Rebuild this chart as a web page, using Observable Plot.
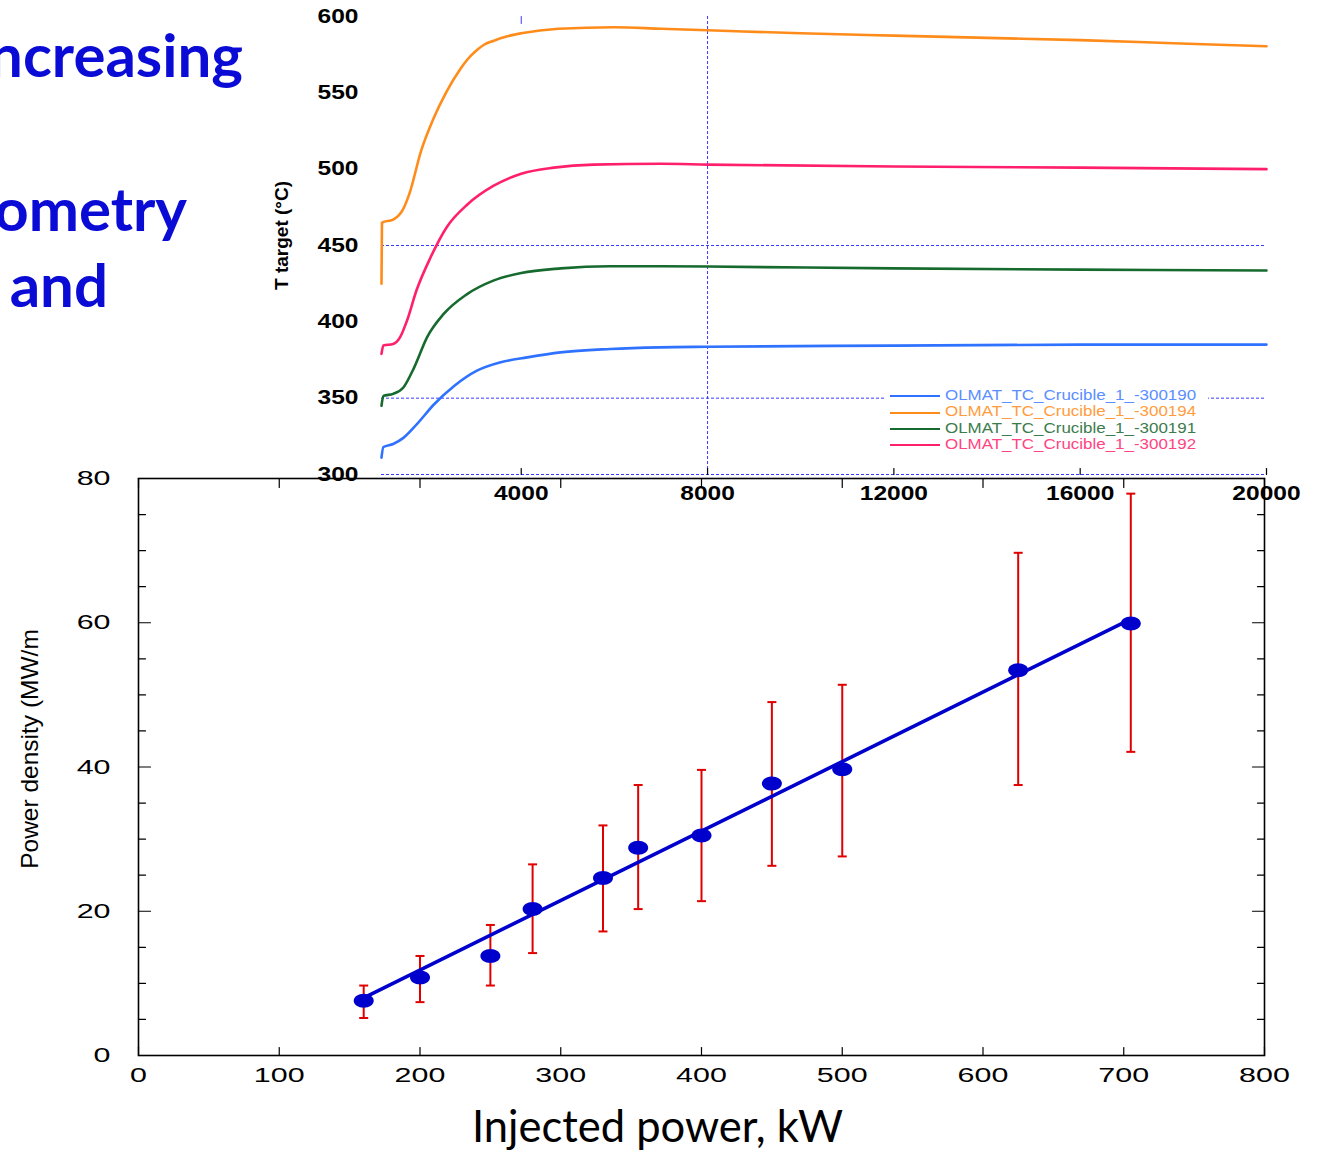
<!DOCTYPE html>
<html>
<head>
<meta charset="utf-8">
<script src="https://cdn.jsdelivr.net/npm/d3@7"></script>
<script src="https://cdn.jsdelivr.net/npm/@observablehq/plot@0.6"></script>
<style>
  body { margin: 0; background: #fff; }
  #wrap { position: relative; width: 1326px; height: 1152px; overflow: hidden; background: #fff; }
  .slide { position: absolute; font-family: Lato, "Open Sans", sans-serif; font-weight: 700; color: #0b0bd6;
           font-size: 60px; line-height: 60px; white-space: nowrap; }
  #bottomChart { position: absolute; left: 0; top: 460px; }
  #topChart { position: absolute; left: 0; top: 0; }
  #legend { position: absolute; left: 884px; top: 387px; width: 324px; background: #fff; padding: 0 0 2px 6px;
            box-sizing: border-box; font-family: "Liberation Sans", Arial, sans-serif; font-size: 14px; }
  #legend .row { height: 16.33px; line-height: 16.33px; white-space: nowrap; }
  #legend .sw { display: inline-block; width: 50px; height: 0; vertical-align: middle; margin-right: 5px; }
  #legend .lab { display: inline-block; transform: scaleX(1.21); transform-origin: left center; }
</style>
</head>
<body>
<div id="wrap">
  <div class="slide" style="right:1083px; top:24px;">ncreasing</div>
  <div class="slide" style="right:1139px; top:178px;">ometry</div>
  <div class="slide" style="right:1218px; top:254px;">and</div>
  <div id="bottomChart"></div>
  <div id="topChart"></div>
  <div id="legend"></div>
</div>
<script>
// ---------- bottom chart data ----------
const power    = [160, 200, 250, 280, 330, 355, 400, 450, 500, 625, 705];
const density  = [7.6, 10.8, 13.8, 20.3, 24.6, 28.8, 30.5, 37.7, 39.7, 53.4, 59.9];
const errLow   = [5.2, 7.4, 9.7, 14.2, 17.2, 20.3, 21.4, 26.3, 27.6, 37.5, 42.1];
const errHigh  = [9.7, 13.8, 18.1, 26.5, 31.9, 37.5, 39.6, 49.0, 51.4, 69.7, 77.9];
const fitPower   = [160, 705];
const fitDensity = [8.0, 60.5];
const xTicks      = [0, 100, 200, 300, 400, 500, 600, 700, 800];
const yMajorTicks = [0, 20, 40, 60, 80];
const yMinorTicks = [5, 10, 15, 25, 30, 35, 45, 50, 55, 65, 70, 75];
const xTitle = "Injected power, kW";
const yTitle = "Power density (MW/m";

// ---------- top chart data ----------
const seriesIds    = ["OLMAT_TC_Crucible_1_-300190", "OLMAT_TC_Crucible_1_-300194", "OLMAT_TC_Crucible_1_-300191", "OLMAT_TC_Crucible_1_-300192"];
const seriesColors = ["#2f72ff", "#ff8c1a", "#176a2e", "#ff1f6c"];
const legendColors = ["#5b8eff", "#ff9c3e", "#3b7c4c", "#ff4482"];

const time190 = [1000, 1040, 1250, 1470, 1760, 2130, 2560, 3050, 3560, 4130, 4840, 5910, 6990, 8000, 12000, 16000, 20000];
const temp190 = [311, 318, 320, 324, 333, 346, 358, 368, 373.5, 376.7, 380, 382.2, 383.3, 383.7, 384.4, 385.1, 385.1];
const time194 = [1000, 1010, 1250, 1450, 1600, 1850, 2100, 2400, 2700, 2850, 3050, 3200, 3400, 3700, 4000, 4800, 6000, 7000, 8000, 10000, 12000, 14000, 16000, 18000, 20000];
const temp194 = [425, 465, 467, 473, 484, 512, 532, 551, 566, 572, 578, 581.5, 584, 587, 589, 592, 593, 592, 591, 589, 587.5, 586, 584.5, 582.5, 580.5];
const time191 = [1000, 1040, 1250, 1470, 1700, 1980, 2330, 2830, 3400, 4000, 4850, 5900, 7000, 8000, 12000, 16000, 20000];
const temp191 = [345, 351.5, 352.8, 357, 370, 390, 405, 418, 427, 432, 435, 436.4, 436.4, 436.2, 435, 434.2, 433.6];
const time192 = [1000, 1040, 1250, 1400, 1550, 1750, 2050, 2400, 2850, 3400, 4000, 4700, 5550, 7000, 8000, 12000, 16000, 20000];
const temp192 = [379, 384.5, 385.5, 390, 401, 420.5, 442, 462, 477, 489, 497, 501, 503, 503.5, 503, 501.7, 501, 500];

const topXTicks = [4000, 8000, 12000, 16000, 20000];
const topYTicks = [300, 350, 400, 450, 500, 550, 600];
const topGridTemps = [300, 350, 450];
const topGridTimes = [8000];
const topTopTicks = [4000];
const topYTitle = "T target (°C)";
const gridBlue = "#3a3aff";

// ---------- helpers ----------
const lineShape = { draw(context, l) { context.moveTo(0, 0); context.lineTo(0, -l); } };
const ellipse = {
  draw(context, size) {
    const r = Math.sqrt(size / Math.PI);
    const rx = r * 1.25, ry = r * 0.875, k = 0.5523;
    context.moveTo(rx, 0);
    context.bezierCurveTo(rx, k * ry, k * rx, ry, 0, ry);
    context.bezierCurveTo(-k * rx, ry, -rx, k * ry, -rx, 0);
    context.bezierCurveTo(-rx, -k * ry, -k * rx, -ry, 0, -ry);
    context.bezierCurveTo(k * rx, -ry, rx, -k * ry, rx, 0);
    context.closePath();
  }
};
function stretch(svg, selector, sx, sy) {
  svg.querySelectorAll(selector).forEach(t => {
    t.setAttribute("transform", (t.getAttribute("transform") || "") + ` scale(${sx},${sy})`);
  });
}
const plain = d => String(d);

// ---------- bottom chart ----------
const pts = power.map((p, i) => ({power: p, density: density[i], lo: errLow[i], hi: errHigh[i]}));
const fit = fitPower.map((p, i) => ({power: p, density: fitDensity[i]}));
const ident = d => d;

const bottomPlot = Plot.plot({
  width: 1326, height: 692,
  marginTop: 18, marginBottom: 97, marginLeft: 138, marginRight: 62,
  x: {domain: [0, 800], label: null},
  y: {domain: [0, 80], label: null},
  style: {background: "transparent", fontFamily: "Liberation Sans, Arial, sans-serif", color: "#000"},
  marks: [
    Plot.axisX(xTicks, {tickSize: 0, tickPadding: 12, fontSize: 21, label: null, tickFormat: plain}),
    Plot.axisY(yMajorTicks, {tickSize: 0, tickPadding: 28, fontSize: 21, label: null, tickFormat: plain}),
    Plot.vector(xTicks, {x: ident, y: 0, length: 8, rotate: 0, anchor: "start", shape: lineShape, stroke: "#000", strokeWidth: 1.2}),
    Plot.vector(xTicks, {x: ident, y: 80, length: 9, rotate: 180, anchor: "start", shape: lineShape, stroke: "#000", strokeWidth: 1.2}),
    Plot.vector(yMajorTicks, {x: 0, y: ident, length: 12, rotate: 90, anchor: "start", shape: lineShape, stroke: "#000", strokeWidth: 1.2}),
    Plot.vector(yMinorTicks, {x: 0, y: ident, length: 7, rotate: 90, anchor: "start", shape: lineShape, stroke: "#000", strokeWidth: 1.2}),
    Plot.vector(yMajorTicks, {x: 800, y: ident, length: 12, rotate: 270, anchor: "start", shape: lineShape, stroke: "#000", strokeWidth: 1.2}),
    Plot.vector(yMinorTicks, {x: 800, y: ident, length: 7, rotate: 270, anchor: "start", shape: lineShape, stroke: "#000", strokeWidth: 1.2}),
    Plot.frame({stroke: "#000", strokeWidth: 1.6}),
    Plot.ruleX(pts, {x: "power", y1: "lo", y2: "hi", stroke: "#e00000", strokeWidth: 2}),
    Plot.vector(pts, {x: "power", y: "lo", length: 9, rotate: 90, anchor: "middle", shape: lineShape, stroke: "#e00000", strokeWidth: 2, strokeLinecap: "butt"}),
    Plot.vector(pts, {x: "power", y: "hi", length: 9, rotate: 90, anchor: "middle", shape: lineShape, stroke: "#e00000", strokeWidth: 2, strokeLinecap: "butt"}),
    Plot.line(fit, {x: "power", y: "density", stroke: "#0000cc", strokeWidth: 3.6}),
    Plot.dot(pts, {x: "power", y: "density", r: 8, symbol: ellipse, fill: "#0000cc", stroke: "none"}),
    Plot.text([yTitle], {frameAnchor: "left", textAnchor: "middle", lineAnchor: "middle", rotate: -90, dx: -108, dy: -18,
      fontSize: 24.5, fontFamily: "Liberation Sans, Arial, sans-serif", fill: "#000", ariaLabel: "ytitle"}),
    Plot.text([xTitle], {frameAnchor: "bottom", textAnchor: "middle", lineAnchor: "middle", dx: -44, dy: 73,
      fontSize: 43.5, fontFamily: "Lato, 'Open Sans', sans-serif", fill: "#000"})
  ]
});
stretch(bottomPlot, 'g[aria-label="x-axis tick label"] text', 1.45, 1);
stretch(bottomPlot, 'g[aria-label="y-axis tick label"] text', 1.45, 1);
stretch(bottomPlot, 'g[aria-label="ytitle"] text', 1, 1.35);
document.getElementById("bottomChart").appendChild(bottomPlot);

// ---------- top chart ----------
const seriesTimes = [time190, time194, time191, time192];
const seriesTemps = [temp190, temp194, temp191, temp192];
const traces = seriesIds.flatMap((s, k) => seriesTimes[k].map((t, i) => ({series: s, time: t, temp: seriesTemps[k][i]})));

const topPlot = Plot.plot({
  width: 1326, height: 510,
  marginTop: 16, marginBottom: 36, marginLeft: 381, marginRight: 60,
  x: {domain: [1000, 20000], label: null},
  y: {domain: [300, 600], label: null},
  color: {domain: seriesIds, range: seriesColors},
  style: {background: "transparent", fontFamily: "Liberation Sans, Arial, sans-serif", color: "#000"},
  marks: [
    Plot.ruleY(topGridTemps, {stroke: gridBlue, strokeWidth: 1, strokeDasharray: "3,2"}),
    Plot.ruleX(topGridTimes, {stroke: gridBlue, strokeWidth: 1, strokeDasharray: "3,2"}),
    Plot.vector(topTopTicks, {x: ident, y: 600, length: 7, rotate: 180, anchor: "start", shape: lineShape, stroke: gridBlue, strokeWidth: 1}),
    Plot.vector(topXTicks, {x: ident, y: 300, length: 6, rotate: 0, anchor: "start", shape: lineShape, stroke: "#000", strokeWidth: 1.2}),
    Plot.axisX(topXTicks, {tickSize: 0, tickPadding: 12, fontSize: 19.5, fontWeight: "bold", label: null, tickFormat: plain}),
    Plot.axisY(topYTicks, {tickSize: 0, tickPadding: 23, fontSize: 19.5, fontWeight: "bold", label: null, tickFormat: plain}),
    Plot.line(traces, {x: "time", y: "temp", z: "series", stroke: "series", strokeWidth: 2.6, curve: "monotone-x"}),
    Plot.text([topYTitle], {frameAnchor: "left", textAnchor: "middle", lineAnchor: "middle", rotate: -90, dx: -100, dy: -10,
      fontSize: 19, fontWeight: "bold", fill: "#000", ariaLabel: "ytitle"})
  ]
});
stretch(topPlot, 'g[aria-label="x-axis tick label"] text', 1.26, 1);
stretch(topPlot, 'g[aria-label="y-axis tick label"] text', 1.26, 1);
stretch(topPlot, 'g[aria-label="ytitle"] text', 1, 1.2);
document.getElementById("topChart").appendChild(topPlot);

// ---------- legend (HTML) ----------
const legend = d3.select("#legend");
seriesIds.forEach((s, k) => {
  const row = legend.append("div").attr("class", "row");
  row.append("span").attr("class", "sw").style("border-top", `2px solid ${seriesColors[k]}`);
  row.append("span").attr("class", "lab").style("color", legendColors[k]).text(s);
});
</script>
</body>
</html>
